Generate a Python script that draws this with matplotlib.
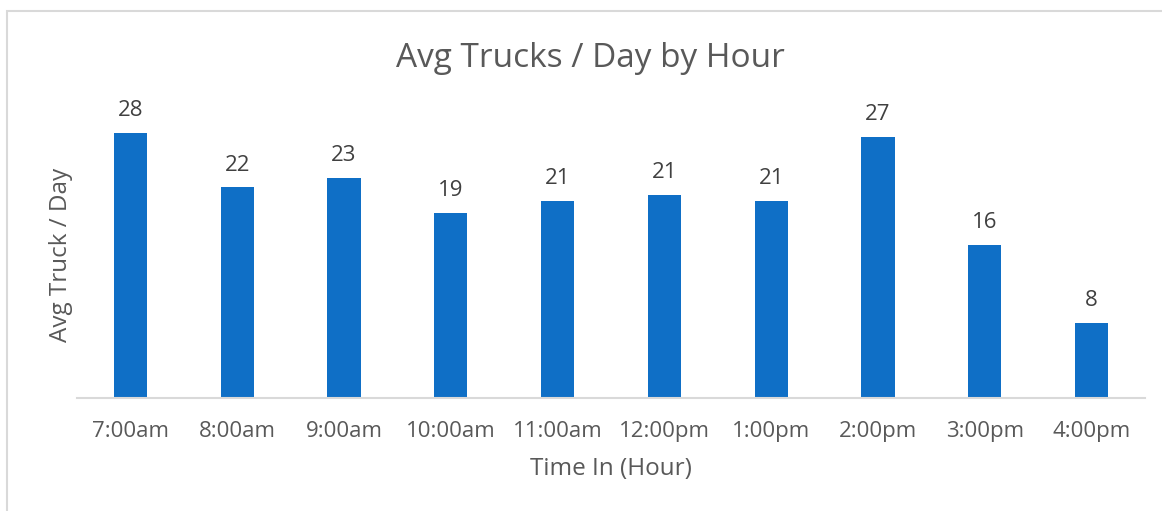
import matplotlib.pyplot as plt
from matplotlib.patches import Rectangle

hours = ['7:00am', '8:00am', '9:00am', '10:00am', '11:00am',
         '12:00pm', '1:00pm', '2:00pm', '3:00pm', '4:00pm']
avg_trucks = [27.8, 22.1, 23.1, 19.4, 20.7, 21.3, 20.7, 27.4, 16.1, 7.9]

plt.rcParams['font.family'] = ['Open Sans', 'DejaVu Sans']

fig = plt.figure(figsize=(11.62, 5.11), dpi=100)
ax = fig.add_axes([0.0663, 0.2202, 0.919, 0.5607])

# light frame round the chart (left and top edges visible)
fig.patches.append(Rectangle((7 / 1162, -0.2), 1.5, (511 - 11) / 511 + 0.2,
                             transform=fig.transFigure, fill=False,
                             edgecolor='#d9d9d9', linewidth=1.5))

x = range(len(hours))
bars = ax.bar(x, avg_trucks, width=0.31, color='#0F6FC6')

for b, v in zip(bars, avg_trucks):
    ax.annotate(f'{v:.0f}', (b.get_x() + b.get_width() / 2, v),
                xytext=(0, 16), textcoords='offset points',
                ha='center', va='center', fontsize=16, color='#404040',
                annotation_clip=False)

ax.set_xlim(-0.5, len(hours) - 0.5)
ax.set_ylim(0, 30)
ax.set_xticks(list(x))
ax.set_xticklabels(hours, fontsize=16, color='#595959')
ax.tick_params(axis='x', length=0, pad=16)
ax.set_yticks([])

for s in ['top', 'right', 'left']:
    ax.spines[s].set_visible(False)
ax.spines['bottom'].set_color('#d9d9d9')
ax.spines['bottom'].set_linewidth(1.5)

ax.set_xlabel('Time In (Hour)', fontsize=17.5, color='#595959', labelpad=11)
ax.set_ylabel('Avg Truck / Day', fontsize=17.5, color='#595959', labelpad=3)
fig.text(0.508, 0.886, 'Avg Trucks / Day by Hour', ha='center', va='center',
         fontsize=24, color='#595959')

fig.savefig('out.png', dpi=100)
